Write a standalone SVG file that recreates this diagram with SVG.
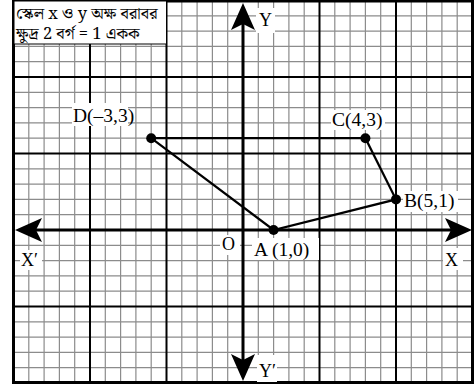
<svg xmlns="http://www.w3.org/2000/svg" width="476" height="389" viewBox="0 0 476 389">
<style>
.minor{stroke:#8c8c8c;stroke-width:1.2;fill:none}
.major{stroke:#000;stroke-width:2;fill:none}
.border{stroke:#000;stroke-width:3;fill:none}
.axis{stroke:#000;stroke-width:3;fill:none;marker-start:url(#ah);marker-end:url(#ah)}
.edge{stroke:#000;stroke-width:2.2;fill:none}
.bg{fill:#fff}
.lbl{font-family:"Liberation Serif","Times New Roman",serif;font-size:18px;fill:#000}
.pl{font-size:19.5px}
.bn{font-family:"Noto Serif Bengali","Noto Sans Bengali","Liberation Serif",serif;font-size:16.5px;fill:#000}
.dot{fill:#000}
</style>
<defs>
<marker id="ah" markerUnits="userSpaceOnUse" viewBox="-28 -13 30 26" markerWidth="30" markerHeight="26" refX="-21" refY="0" orient="auto-start-reverse">
<path d="M0,0 L-27,-12 L-21,0 L-27,12 Z" fill="#000"/>
</marker>
</defs>
<rect x="0" y="0" width="476" height="389" fill="#fff"/>
<g id="grid">
<path class="minor" d="M28.8 0.5V383M44.1 0.5V383M59.4 0.5V383M74.7 0.5V383M105.3 0.5V383M120.6 0.5V383M135.9 0.5V383M151.2 0.5V383M181.8 0.5V383M197.1 0.5V383M212.4 0.5V383M227.7 0.5V383M258.3 0.5V383M273.6 0.5V383M288.9 0.5V383M304.2 0.5V383M334.8 0.5V383M350.1 0.5V383M365.4 0.5V383M380.7 0.5V383M411.3 0.5V383M426.6 0.5V383M441.9 0.5V383M457.2 0.5V383"/>
<path class="minor" d="M13.5 15.8H472.5M13.5 31.1H472.5M13.5 46.4H472.5M13.5 61.7H472.5M13.5 92.3H472.5M13.5 107.6H472.5M13.5 122.9H472.5M13.5 138.2H472.5M13.5 168.8H472.5M13.5 184.1H472.5M13.5 199.4H472.5M13.5 214.7H472.5M13.5 245.3H472.5M13.5 260.6H472.5M13.5 275.9H472.5M13.5 291.2H472.5M13.5 321.8H472.5M13.5 337.1H472.5M13.5 352.4H472.5M13.5 367.7H472.5"/>
<path class="major" d="M90 0.5V383M166.5 0.5V383M319.5 0.5V383M396 0.5V383M13.5 77H472.5M13.5 153.5H472.5M13.5 306.5H472.5"/>
<rect class="border" x="13.5" y="1" width="459" height="381.5"/>
</g>
<g id="scale-note">
<rect x="14" y="1" width="152.5" height="43" fill="#fff" stroke="#000" stroke-width="1"/>
<text class="bn" x="16" y="18.5">স্কেল x ও y অক্ষ বরাবর</text>
<text class="bn" x="16" y="38.5">ক্ষুদ্র 2 বর্গ = 1 একক</text>
</g>
<g id="axes">
<path class="axis" d="M36 230H451"/>
<path class="axis" d="M243 360V24"/>
</g>
<g id="axis-labels">
<rect class="bg" x="256" y="8" width="19" height="25"/>
<text class="lbl" x="259" y="26">Y</text>
<rect class="bg" x="257" y="355" width="20" height="27"/>
<text class="lbl" x="259" y="377">Y′</text>
<rect class="bg" x="443" y="248" width="20" height="22"/>
<text class="lbl" x="445" y="266">X</text>
<rect class="bg" x="20" y="250" width="22" height="20"/>
<text class="lbl" x="21" y="266">X′</text>
<rect class="bg" x="220" y="235" width="20" height="20"/>
<text class="lbl" x="222" y="250">O</text>
</g>
<g id="connectors">
<path class="edge" d="M151.2 138.2L273.6 230L396 199.4L365.4 138.2Z"/>
</g>
<g id="node-A">
<circle class="dot" cx="273.6" cy="230" r="5"/>
<rect class="bg" x="252" y="238" width="67" height="22"/>
<text class="lbl pl" x="254" y="256">A (1,0)</text>
</g>
<g id="node-B">
<circle class="dot" cx="396" cy="199.4" r="5"/>
<rect class="bg" x="403" y="191" width="55" height="21"/>
<text class="lbl pl" x="404" y="207">B(5,1)</text>
</g>
<g id="node-C">
<circle class="dot" cx="365.4" cy="138.2" r="5"/>
<rect class="bg" x="331" y="110" width="54" height="20"/>
<text class="lbl pl" x="332" y="126">C(4,3)</text>
</g>
<g id="node-D">
<circle class="dot" cx="151.2" cy="138.2" r="5"/>
<rect class="bg" x="72" y="103" width="56" height="23"/>
<text class="lbl pl" x="73" y="122">D(–3,3)</text>
</g>
</svg>
